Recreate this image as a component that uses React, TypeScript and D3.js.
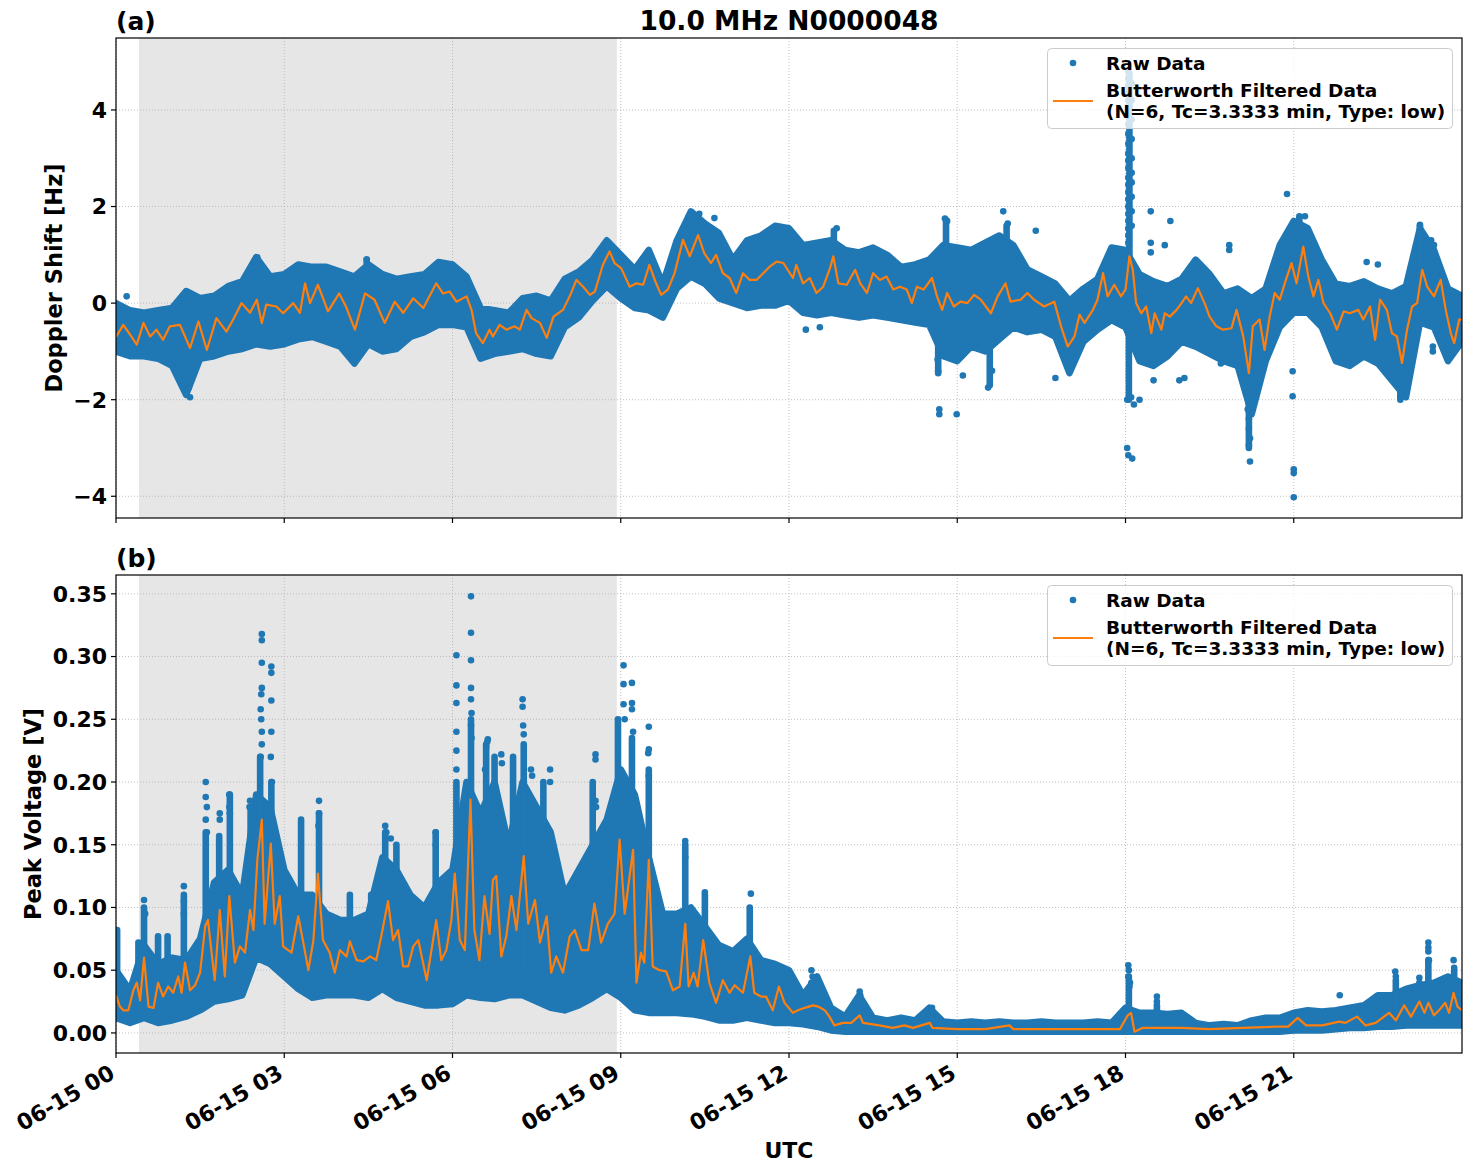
import * as d3 from 'd3';

// 15-minute grid used for the raw-data envelopes (hours since 06-15 00 UTC)
const envHours = d3.range(0, 24.001, 0.25);

// Doppler shift raw data: upper / lower edge of the dense scatter [Hz]
const dopplerHi = [
  0.0, -0.15, -0.2, -0.15, -0.1, 0.25, 0.1, 0.15, 0.35, 0.45, 0.95, 0.55, 0.6, 0.8, 0.75, 0.75,
  0.65, 0.55, 0.8, 0.6, 0.5, 0.55, 0.6, 0.85, 0.8, 0.55, -0.1, -0.15, -0.2, 0.1, 0.15, 0.05,
  0.5, 0.65, 0.9, 1.3, 1.0, 0.7, 1.1, 0.4, 1.3, 1.9, 1.65, 1.45, 0.9, 1.3, 1.4, 1.6,
  1.55, 1.2, 1.25, 1.3, 1.1, 1.05, 1.15, 1.0, 0.75, 0.8, 0.9, 1.2, 1.15, 1.1, 1.25, 1.4,
  1.2, 0.7, 0.55, 0.4, 0.05, 0.3, 0.5, 1.15, 1.1, 0.6, 0.45, 0.35, 0.5, 0.9, 0.6, 0.2,
  0.3, 0.1, 0.3, 1.2, 1.7, 1.55, 0.9, 0.4, 0.35, 0.45, 0.3, 0.2, 0.35, 1.55, 1.1, 0.3, 0.15,
];
const dopplerLo = [
  -1.0, -1.1, -1.1, -1.15, -1.3, -1.9, -1.15, -1.1, -1.0, -0.95, -0.85, -0.9, -0.85, -0.75, -0.7, -0.8,
  -0.9, -1.25, -0.85, -1.0, -0.95, -0.7, -0.6, -0.45, -0.45, -0.5, -1.15, -1.05, -1.0, -0.95, -1.05, -1.1,
  -0.5, -0.3, 0.05, 0.35, 0.1, -0.1, -0.15, -0.3, 0.3, 0.55, 0.4, 0.1, 0.0, -0.1, -0.05, -0.05,
  0.05, -0.2, -0.25, -0.2, -0.25, -0.3, -0.25, -0.3, -0.35, -0.4, -0.45, -1.1, -1.2, -0.9, -1.0, -0.75,
  -0.5, -0.6, -0.55, -0.7, -1.45, -0.8, -0.55, -0.35, -0.5, -1.2, -1.3, -1.1, -0.8, -0.9, -1.05, -1.2,
  -1.3, -2.3, -1.2, -0.5, -0.2, -0.2, -0.5, -1.2, -1.3, -1.1, -1.25, -1.6, -1.95, -0.4, -0.5, -1.2, -0.8,
];

// Doppler shift: short dense columns of raw points (hour, low end, high end)
const dopplerSpikeHours = [2.5, 4.47, 12.8, 14.66, 14.8, 15.58, 15.88, 18.07, 18.06, 20.2, 21.1, 22.9, 23.25];
const dopplerSpikeLow = [0.3, 0.3, 0.8, -1.45, 0.5, -1.7, 0.8, 0.5, -2.0, -3.0, 0.5, -2.0, 0.5];
const dopplerSpikeHigh = [0.93, 0.9, 1.5, 0.0, 1.72, -0.5, 1.6, 4.75, -0.5, -1.0, 1.8, -1.0, 1.62];

// Doppler shift raw points lying outside the dense band
const dopplerOutHours = [
  0.19, 1.32, 1.3, 2.52, 2.5, 4.47, 10.4, 10.67, 11.18, 12.3, 12.55, 12.85,
  14.65, 14.66, 14.68, 14.68, 14.99, 14.78, 14.82, 15.1, 15.55, 15.62, 15.82, 15.9, 16.4, 16.75,
  18.05, 18.05, 18.05, 18.05, 18.05, 18.05, 18.05, 18.05, 18.05, 18.05, 18.05, 18.05,
  18.05, 18.05, 18.05, 18.05, 18.05, 18.05, 18.05, 18.05, 18.05, 18.05, 18.05,
  18.11, 18.11, 18.11, 18.11, 18.11, 18.11, 18.11, 18.11, 18.11, 18.11,
  18.03, 18.1, 18.15, 18.03, 18.05, 18.12, 18.25,
  18.45, 18.45, 18.45, 18.5, 18.7, 18.8, 18.96, 19.05, 19.85, 19.85, 19.7,
  20.18, 20.2, 20.2, 20.22, 20.2, 20.22,
  20.88, 20.98, 20.98, 21.0, 21.0, 21.0, 21.2, 22.3, 22.5, 23.25, 23.45, 23.5, 23.48, 23.48,
];
const dopplerOutValues = [
  0.14, -1.95, -1.75, 0.95, 0.9, 0.9, 1.85, 1.76, 1.14, -0.55, -0.5, 1.55,
  -1.17, -1.41, -2.2, -2.3, -2.3, 1.75, 1.7, -1.5, -1.75, -1.4, 1.9, 1.65, 1.5, -1.55,
  4.8, 4.65, 4.5, 4.35, 4.2, 4.05, 3.9, 3.7, 3.5, 3.3, 3.1, 2.95,
  2.8, 2.6, 2.45, 2.3, 2.15, 2.0, 1.85, 1.7, 1.55, 1.4, 1.25,
  4.55, 4.2, 3.8, 3.4, 3.0, 2.7, 2.5, 2.2, 1.9, 1.6,
  -2.0, -1.95, -2.1, -3.0, -3.15, -3.22, -2.0,
  1.9, 1.25, 1.05, -1.6, 1.2, 1.7, -1.6, -1.55, 1.2, 1.1, -1.25,
  -2.2, -2.4, -2.6, -2.8, -2.95, -3.28,
  2.26, -1.41, -1.93, -3.44, -3.52, -4.02, 1.8, 0.85, 0.8, 1.6, 1.3, 1.2, -0.9, -1.0,
];

// Butterworth low-pass filtered Doppler shift
const dopplerFiltHours = [
  0.0, 0.13, 0.25, 0.37, 0.49, 0.61, 0.72, 0.84, 0.96, 1.14, 1.32, 1.47, 1.62, 1.79, 1.97, 2.09,
  2.24, 2.39, 2.51, 2.6, 2.68, 2.86, 2.98, 3.16, 3.28, 3.37, 3.46, 3.6, 3.78, 3.98, 4.1, 4.26,
  4.44, 4.61, 4.79, 4.97, 5.12, 5.3, 5.48, 5.71, 5.83, 5.95, 6.07, 6.25, 6.34, 6.42, 6.54, 6.66,
  6.72, 6.84, 6.96, 7.11, 7.2, 7.32, 7.41, 7.56, 7.68, 7.8, 7.97, 8.09, 8.21, 8.33, 8.45, 8.54,
  8.68, 8.8, 8.89, 9.01, 9.16, 9.28, 9.4, 9.51, 9.63, 9.72, 9.84, 9.96, 10.11, 10.23, 10.38, 10.49,
  10.61, 10.7, 10.82, 10.94, 11.06, 11.18, 11.3, 11.42, 11.54, 11.66, 11.78, 11.9, 12.07, 12.13, 12.25, 12.37,
  12.49, 12.61, 12.73, 12.79, 12.88, 13.03, 13.18, 13.27, 13.39, 13.5, 13.62, 13.74, 13.86, 13.98, 14.1, 14.19,
  14.28, 14.4, 14.55, 14.64, 14.73, 14.82, 14.94, 15.06, 15.18, 15.3, 15.42, 15.6, 15.72, 15.86, 15.95, 16.13,
  16.25, 16.37, 16.55, 16.73, 16.85, 16.97, 17.09, 17.18, 17.27, 17.42, 17.5, 17.6, 17.68, 17.8, 17.92, 18.0,
  18.07, 18.13, 18.19, 18.28, 18.37, 18.46, 18.52, 18.64, 18.7, 18.79, 18.91, 19.0, 19.08, 19.17, 19.29, 19.41,
  19.5, 19.62, 19.74, 19.89, 19.98, 20.1, 20.2, 20.27, 20.39, 20.48, 20.57, 20.66, 20.75, 20.84, 20.96, 21.05,
  21.17, 21.26, 21.35, 21.44, 21.53, 21.65, 21.77, 21.89, 22.0, 22.15, 22.24, 22.36, 22.45, 22.54, 22.66, 22.75,
  22.84, 22.93, 23.02, 23.11, 23.2, 23.29, 23.38, 23.5, 23.62, 23.71, 23.8, 23.86, 23.95, 24.0,
];
const dopplerFiltValues = [
  -0.7, -0.45, -0.65, -0.86, -0.41, -0.69, -0.55, -0.76, -0.48, -0.45, -0.93, -0.38, -0.97, -0.31, -0.59, -0.34,
  0.0, -0.2, 0.07, -0.41, -0.03, -0.07, -0.21, 0.0, -0.2, 0.41, 0.0, 0.38, -0.17, 0.2, -0.07, -0.55,
  0.2, 0.07, -0.41, 0.03, -0.2, 0.1, -0.1, 0.41, 0.2, 0.24, 0.03, 0.14, -0.14, -0.62, -0.83, -0.55,
  -0.69, -0.45, -0.55, -0.48, -0.55, -0.14, -0.31, -0.41, -0.72, -0.28, -0.14, 0.14, 0.48, 0.34, 0.17, 0.24,
  0.79, 1.07, 0.83, 0.72, 0.34, 0.41, 0.38, 0.79, 0.41, 0.17, 0.28, 0.62, 1.31, 0.97, 1.41, 1.03,
  0.83, 1.0, 0.62, 0.52, 0.21, 0.62, 0.48, 0.48, 0.62, 0.76, 0.86, 0.83, 0.52, 0.79, 0.41, 0.52,
  0.21, 0.34, 0.72, 0.97, 0.41, 0.38, 0.69, 0.41, 0.21, 0.62, 0.48, 0.55, 0.28, 0.34, 0.28, 0.0,
  0.34, 0.28, 0.52, 0.14, -0.14, 0.21, -0.07, 0.03, 0.0, 0.17, 0.07, -0.21, 0.14, 0.41, 0.03, 0.07,
  0.21, 0.07, -0.07, 0.03, -0.48, -0.9, -0.69, -0.24, -0.41, -0.14, 0.07, 0.62, 0.14, 0.38, 0.14, 0.28,
  0.97, 0.69, 0.0, -0.21, -0.07, -0.62, -0.21, -0.55, -0.21, -0.28, -0.14, 0.0, 0.14, 0.0, 0.31, 0.0,
  -0.28, -0.48, -0.55, -0.52, -0.14, -0.69, -1.45, -0.48, -0.34, -0.97, -0.28, 0.21, 0.07, 0.41, 0.83, 0.41,
  1.17, 0.55, 0.14, 0.48, 0.0, -0.21, -0.55, -0.17, -0.21, -0.14, -0.34, -0.07, -0.76, 0.07, -0.14, -0.62,
  -0.69, -1.24, -0.55, -0.07, 0.0, 0.69, 0.34, 0.14, 0.48, -0.14, -0.62, -0.83, -0.34, -0.34,
];

// Peak voltage raw data: upper / lower edge of the dense scatter [V]
const voltageHi = [
  0.05, 0.034, 0.07, 0.055, 0.06, 0.058, 0.075, 0.12, 0.13, 0.11, 0.19, 0.18, 0.13, 0.11, 0.11, 0.095,
  0.09, 0.09, 0.095, 0.14, 0.13, 0.11, 0.10, 0.12, 0.13, 0.2, 0.175, 0.2, 0.15, 0.2, 0.18, 0.16,
  0.11, 0.13, 0.15, 0.17, 0.21, 0.19, 0.14, 0.095, 0.095, 0.1, 0.085, 0.07, 0.065, 0.075, 0.058, 0.055,
  0.05, 0.03, 0.045, 0.02, 0.013, 0.03, 0.012, 0.01, 0.012, 0.01, 0.02, 0.009, 0.008, 0.009, 0.008, 0.009,
  0.008, 0.008, 0.009, 0.008, 0.008, 0.008, 0.009, 0.008, 0.02, 0.016, 0.016, 0.015, 0.016, 0.008, 0.006, 0.007,
  0.006, 0.01, 0.012, 0.012, 0.016, 0.018, 0.017, 0.018, 0.02, 0.022, 0.03, 0.03, 0.035, 0.038, 0.04, 0.045, 0.04,
];
const voltageLo = [
  0.012, 0.008, 0.012, 0.008, 0.01, 0.013, 0.018, 0.025, 0.027, 0.03, 0.06, 0.055, 0.045, 0.035, 0.028, 0.03,
  0.03, 0.03, 0.028, 0.035, 0.028, 0.025, 0.022, 0.022, 0.023, 0.03, 0.028, 0.027, 0.03, 0.03, 0.025, 0.02,
  0.018, 0.022, 0.028, 0.035, 0.028, 0.018, 0.016, 0.016, 0.016, 0.015, 0.013, 0.01, 0.01, 0.012, 0.01, 0.008,
  0.008, 0.007, 0.005, 0.002, 0.001, 0.001, 0.001, 0.001, 0.001, 0.001, 0.001, 0.001, 0.001, 0.001, 0.001, 0.001,
  0.001, 0.001, 0.001, 0.001, 0.001, 0.001, 0.001, 0.001, 0.001, 0.001, 0.001, 0.001, 0.001, 0.001, 0.001, 0.001,
  0.001, 0.001, 0.001, 0.001, 0.002, 0.002, 0.002, 0.003, 0.004, 0.004, 0.005, 0.005, 0.006, 0.006, 0.006, 0.006, 0.006,
];

// Peak voltage: short dense columns of raw points (hour, low end, high end)
const voltageSpikeHours = [
  0.02, 0.4, 0.5, 0.75, 0.92, 1.21, 1.6, 1.84, 2.03, 2.4, 2.57, 2.77, 3.3, 3.62, 4.17, 4.55,
  4.8, 5.0, 5.7, 6.07, 6.33, 6.6, 6.75, 7.08, 7.27, 7.62, 8.5, 8.95, 9.2, 9.5, 10.15, 10.5,
  11.3, 12.4, 13.26, 14.55, 18.06, 18.56, 22.82, 23.24, 23.4, 23.86,
];
const voltageSpikeLow = [
  0.03, 0.03, 0.03, 0.03, 0.03, 0.03, 0.05, 0.05, 0.05, 0.05, 0.1, 0.1, 0.05, 0.05, 0.04, 0.04,
  0.05, 0.05, 0.05, 0.05, 0.05, 0.05, 0.05, 0.05, 0.05, 0.05, 0.05, 0.05, 0.05, 0.05, 0.03, 0.03,
  0.03, 0.01, 0.005, 0.003, 0.005, 0.003, 0.01, 0.01, 0.01, 0.01,
];
const voltageSpikeHigh = [
  0.082, 0.072, 0.1, 0.077, 0.077, 0.11, 0.16, 0.157, 0.19, 0.18, 0.22, 0.2, 0.17, 0.175, 0.11, 0.11,
  0.16, 0.15, 0.16, 0.2, 0.25, 0.23, 0.22, 0.22, 0.23, 0.2, 0.2, 0.25, 0.235, 0.21, 0.15, 0.11,
  0.1, 0.04, 0.028, 0.018, 0.045, 0.022, 0.042, 0.038, 0.058, 0.05,
];

// Peak voltage raw points above the dense band
const voltageOutHours = [
  0.5, 0.52, 1.21, 1.21, 1.21, 1.6, 1.6, 1.62, 1.6, 1.62, 1.85, 1.85, 2.02, 2.02, 2.03, 2.38, 2.39,
  2.6, 2.6, 2.6, 2.59, 2.6, 2.58, 2.59, 2.6, 2.6, 2.58,
  2.77, 2.77, 2.77, 2.77, 2.76, 2.78, 3.62, 3.62, 3.61, 4.8, 4.82, 4.9, 5.7, 5.7,
  6.07, 6.07, 6.07, 6.07, 6.07, 6.07,
  6.33, 6.33, 6.33, 6.33, 6.33, 6.34, 6.33, 6.34,
  6.58, 6.6, 6.62, 6.63, 6.87, 6.88, 7.25, 7.25, 7.27, 7.26, 7.4, 7.42, 7.74, 7.74,
  8.55, 8.55, 8.55, 8.56, 9.05, 9.05, 9.05, 9.07, 9.2, 9.2, 9.2, 9.22, 9.5, 9.5, 9.49, 9.5,
  10.15, 10.15, 10.5, 11.32, 12.4, 12.42, 13.26, 13.27, 14.55,
  18.05, 18.06, 18.05, 18.08, 18.07, 18.56, 18.56, 21.82, 22.81, 22.82, 23.24, 23.24,
  23.4, 23.4, 23.4, 23.41, 23.85, 23.86,
];
const voltageOutValues = [
  0.106, 0.095, 0.117, 0.105, 0.095, 0.2, 0.188, 0.18, 0.17, 0.16, 0.175, 0.17, 0.19, 0.18, 0.175, 0.18, 0.185,
  0.318, 0.313, 0.295, 0.27, 0.275, 0.258, 0.25, 0.24, 0.23, 0.22,
  0.292, 0.287, 0.265, 0.24, 0.22, 0.2, 0.185, 0.175, 0.165, 0.165, 0.16, 0.155, 0.16, 0.15,
  0.301, 0.277, 0.263, 0.24, 0.225, 0.21,
  0.348, 0.319, 0.297, 0.275, 0.266, 0.255, 0.245, 0.235,
  0.21, 0.228, 0.232, 0.234, 0.222, 0.215, 0.266, 0.26, 0.238, 0.245, 0.21, 0.205, 0.21, 0.2,
  0.222, 0.218, 0.185, 0.18, 0.293, 0.278, 0.262, 0.25, 0.279, 0.263, 0.258, 0.24, 0.244, 0.226, 0.223, 0.205,
  0.153, 0.14, 0.112, 0.111, 0.05, 0.045, 0.033, 0.03, 0.02,
  0.054, 0.05, 0.045, 0.04, 0.037, 0.029, 0.025, 0.03, 0.049, 0.045, 0.044, 0.04,
  0.072, 0.068, 0.065, 0.058, 0.058, 0.052,
];

// Butterworth low-pass filtered peak voltage
const voltageFiltHours = [
  0.0, 0.07, 0.13, 0.22, 0.31, 0.37, 0.43, 0.5, 0.58, 0.67, 0.75, 0.84, 0.93, 1.02, 1.11, 1.17,
  1.23, 1.32, 1.41, 1.5, 1.59, 1.64, 1.76, 1.85, 1.94, 2.02, 2.12, 2.21, 2.3, 2.39, 2.45, 2.52,
  2.6, 2.65, 2.76, 2.83, 2.92, 2.98, 3.13, 3.25, 3.34, 3.43, 3.52, 3.6, 3.69, 3.81, 3.9, 3.99,
  4.11, 4.17, 4.29, 4.41, 4.53, 4.64, 4.73, 4.85, 4.94, 5.03, 5.12, 5.21, 5.3, 5.39, 5.54, 5.71,
  5.8, 5.89, 5.98, 6.04, 6.13, 6.22, 6.32, 6.39, 6.48, 6.57, 6.66, 6.72, 6.78, 6.87, 6.96, 7.05,
  7.14, 7.27, 7.35, 7.47, 7.56, 7.68, 7.76, 7.85, 7.97, 8.09, 8.18, 8.3, 8.42, 8.53, 8.65, 8.77,
  8.89, 8.98, 9.07, 9.22, 9.28, 9.36, 9.42, 9.5, 9.57, 9.69, 9.81, 9.93, 10.05, 10.15, 10.21, 10.3,
  10.37, 10.47, 10.58, 10.7, 10.82, 10.94, 11.03, 11.18, 11.31, 11.38, 11.5, 11.59, 11.71, 11.82, 11.92, 12.07,
  12.16, 12.28, 12.43, 12.52, 12.64, 12.72, 12.81, 12.96, 13.11, 13.26, 13.32, 13.61, 13.85, 14.06, 14.21, 14.51,
  14.56, 15.0, 15.5, 15.93, 16.0, 16.5, 17.0, 17.5, 17.9, 18.04, 18.1, 18.16, 18.3, 19.0, 19.5, 20.09,
  20.68, 20.9, 21.07, 21.22, 21.51, 21.81, 21.92, 22.13, 22.28, 22.46, 22.7, 22.82, 22.97, 23.09, 23.24, 23.33,
  23.4, 23.5, 23.59, 23.7, 23.77, 23.85, 23.92, 24.0,
];
const voltageFiltValues = [
  0.03, 0.021, 0.018, 0.018, 0.034, 0.04, 0.026, 0.06, 0.021, 0.02, 0.04, 0.029, 0.037, 0.032, 0.045, 0.032,
  0.056, 0.034, 0.038, 0.048, 0.085, 0.09, 0.042, 0.098, 0.045, 0.109, 0.056, 0.069, 0.064, 0.098, 0.082, 0.138,
  0.17, 0.087, 0.151, 0.087, 0.109, 0.069, 0.064, 0.093, 0.072, 0.05, 0.074, 0.127, 0.074, 0.064, 0.048, 0.066,
  0.061, 0.073, 0.058, 0.057, 0.061, 0.058, 0.077, 0.105, 0.074, 0.082, 0.053, 0.053, 0.069, 0.074, 0.042, 0.09,
  0.058, 0.066, 0.09, 0.127, 0.074, 0.066, 0.186, 0.082, 0.058, 0.109, 0.079, 0.122, 0.125, 0.061, 0.077, 0.109,
  0.082, 0.141, 0.087, 0.106, 0.072, 0.093, 0.048, 0.061, 0.048, 0.077, 0.082, 0.066, 0.066, 0.103, 0.072, 0.087,
  0.095, 0.154, 0.095, 0.146, 0.04, 0.064, 0.056, 0.138, 0.053, 0.05, 0.049, 0.034, 0.037, 0.087, 0.037, 0.048,
  0.037, 0.074, 0.04, 0.024, 0.042, 0.032, 0.038, 0.032, 0.061, 0.032, 0.029, 0.029, 0.018, 0.037, 0.024, 0.016,
  0.018, 0.02, 0.022, 0.021, 0.018, 0.013, 0.006, 0.008, 0.008, 0.014, 0.008, 0.006, 0.004, 0.006, 0.004, 0.008,
  0.004, 0.003, 0.003, 0.006, 0.003, 0.003, 0.003, 0.003, 0.003, 0.014, 0.016, 0.001, 0.004, 0.004, 0.003, 0.004,
  0.005, 0.005, 0.012, 0.006, 0.006, 0.009, 0.008, 0.013, 0.006, 0.008, 0.016, 0.01, 0.022, 0.013, 0.025, 0.016,
  0.024, 0.014, 0.018, 0.024, 0.016, 0.032, 0.021, 0.018,
];

// shaded interval (hours) and axis ticks
const shadeSpan = [0.41, 8.93];
const hourTicks = [0, 3, 6, 9, 12, 15, 18, 21];
const hourTickLabels = ['06-15 00', '06-15 03', '06-15 06', '06-15 09', '06-15 12', '06-15 15', '06-15 18', '06-15 21'];
const dopplerTicks = [-4, -2, 0, 2, 4];
const voltageTicks = [0, 0.05, 0.1, 0.15, 0.2, 0.25, 0.3, 0.35];

const BLUE = '#1f77b4';
const ORANGE = '#ff7f0e';
const FONT = 'DejaVu Sans, Verdana, sans-serif';
const DOT_R = 3.3;

const LEFT = 116;
const RIGHT = 1462;
const xScale = d3.scaleLinear().domain([0, 24]).range([LEFT, RIGHT]);

const zipPts = (xs: number[], ys: number[]) => xs.map((h, i) => [h, ys[i]] as [number, number]);

const Legend = ({ top }: { top: number }) => (
  <g transform={`translate(1047, ${top})`} fontFamily={FONT} fontWeight="bold" fontSize={18.5}>
    <rect x={0.5} y={0.5} width={405} height={80} rx={4} fill="white" fillOpacity={0.8} stroke="#cccccc" />
    <circle cx={26} cy={15} r={DOT_R} fill={BLUE} />
    <text x={59} y={15} dy="0.36em">Raw Data</text>
    <line x1={6} x2={46} y1={53} y2={53} stroke={ORANGE} strokeWidth={2} />
    <text x={59} y={42} dy="0.36em">Butterworth Filtered Data</text>
    <text x={59} y={63} dy="0.36em">(N=6, Tc=3.3333 min, Type: low)</text>
  </g>
);

type PanelProps = {
  id: string;
  top: number;
  bottom: number;
  domain: [number, number];
  ticks: number[];
  tickFmt: (v: number) => string;
  yLabel: string;
  yLabelX: number;
  hi: number[];
  lo: number[];
  spikeH: number[];
  spikeLo: number[];
  spikeHi: number[];
  outH: number[];
  outV: number[];
  filtH: number[];
  filtV: number[];
  showXLabels: boolean;
};

const Panel = (p: PanelProps) => {
  const y = d3.scaleLinear().domain(p.domain).range([p.bottom, p.top]);
  const band = d3
    .area<number>()
    .x((_, i) => xScale(envHours[i]))
    .y0((_, i) => y(p.lo[i]))
    .y1((d) => y(d))(p.hi);
  const filt = d3
    .line<[number, number]>()
    .x((d) => xScale(d[0]))
    .y((d) => y(d[1]))(zipPts(p.filtH, p.filtV));
  const outliers = zipPts(p.outH, p.outV);
  const clipId = `clip-${p.id}`;

  return (
    <g>
      <defs>
        <clipPath id={clipId}>
          <rect x={LEFT} y={p.top} width={RIGHT - LEFT} height={p.bottom - p.top} />
        </clipPath>
      </defs>
      <rect
        x={xScale(shadeSpan[0])}
        y={p.top}
        width={xScale(shadeSpan[1]) - xScale(shadeSpan[0])}
        height={p.bottom - p.top}
        fill="#e6e6e6"
      />
      {/* grid */}
      <g stroke="#b0b0b0" strokeWidth={0.8} strokeDasharray="1,2">
        {hourTicks.map((h) => (
          <line key={`gx${h}`} x1={xScale(h)} x2={xScale(h)} y1={p.top} y2={p.bottom} />
        ))}
        {p.ticks.map((t) => (
          <line key={`gy${t}`} x1={LEFT} x2={RIGHT} y1={y(t)} y2={y(t)} />
        ))}
      </g>
      <g clipPath={`url(#${clipId})`}>
        <path d={band ?? ''} fill={BLUE} stroke={BLUE} strokeWidth={DOT_R * 2} strokeLinejoin="round" />
        {p.spikeH.map((h, i) => (
          <line
            key={`s${i}`}
            x1={xScale(h)}
            x2={xScale(h)}
            y1={y(p.spikeLo[i])}
            y2={y(p.spikeHi[i])}
            stroke={BLUE}
            strokeWidth={DOT_R * 2}
            strokeLinecap="round"
          />
        ))}
        {outliers.map((d, i) => (
          <circle key={i} cx={xScale(d[0])} cy={y(d[1])} r={DOT_R} fill={BLUE} />
        ))}
        <path d={filt ?? ''} fill="none" stroke={ORANGE} strokeWidth={2.2} strokeLinejoin="round" />
      </g>
      <rect x={LEFT} y={p.top} width={RIGHT - LEFT} height={p.bottom - p.top} fill="none" stroke="black" strokeWidth={1.2} />
      {/* axes */}
      <g fontFamily={FONT} fontWeight="bold" fontSize={22}>
        {p.ticks.map((t) => (
          <g key={`ty${t}`}>
            <line x1={LEFT - 5} x2={LEFT} y1={y(t)} y2={y(t)} stroke="black" strokeWidth={1.2} />
            <text x={LEFT - 9} y={y(t)} dy="0.36em" textAnchor="end">
              {p.tickFmt(t)}
            </text>
          </g>
        ))}
        {hourTicks.map((h, i) => (
          <g key={`tx${h}`}>
            <line x1={xScale(h)} x2={xScale(h)} y1={p.bottom} y2={p.bottom + 5} stroke="black" strokeWidth={1.2} />
            {p.showXLabels && (
              <text
                transform={`translate(${xScale(h) - 8}, ${p.bottom + 10}) rotate(-30)`}
                textAnchor="end"
                dy="0.75em"
              >
                {hourTickLabels[i]}
              </text>
            )}
          </g>
        ))}
      </g>
      <text
        transform={`translate(${p.yLabelX}, ${(p.top + p.bottom) / 2}) rotate(-90)`}
        textAnchor="middle"
        fontFamily={FONT}
        fontWeight="bold"
        fontSize={22.5}
      >
        {p.yLabel}
      </text>
      <Legend top={p.top + 10} />
    </g>
  );
};

const App = () => (
  <svg width={1471} height={1172} style={{ position: 'absolute', left: 0, top: 0, display: 'block' }}>
    <rect width={1471} height={1172} fill="white" />
    <text x={789} y={30} textAnchor="middle" fontFamily={FONT} fontWeight="bold" fontSize={26.5}>
      10.0 MHz N0000048
    </text>
    <text x={116} y={30} fontFamily={FONT} fontWeight="bold" fontSize={25}>(a)</text>
    <text x={116} y={567} fontFamily={FONT} fontWeight="bold" fontSize={25}>(b)</text>
    <Panel
      id="doppler"
      top={38}
      bottom={518}
      domain={[-4.45, 5.49]}
      ticks={dopplerTicks}
      tickFmt={(v) => (v < 0 ? `\u2212${Math.abs(v)}` : `${v}`)}
      yLabel="Doppler Shift [Hz]"
      yLabelX={62}
      hi={dopplerHi}
      lo={dopplerLo}
      spikeH={dopplerSpikeHours}
      spikeLo={dopplerSpikeLow}
      spikeHi={dopplerSpikeHigh}
      outH={dopplerOutHours}
      outV={dopplerOutValues}
      filtH={dopplerFiltHours}
      filtV={dopplerFiltValues}
      showXLabels={false}
    />
    <Panel
      id="voltage"
      top={575}
      bottom={1053}
      domain={[-0.016, 0.365]}
      ticks={voltageTicks}
      tickFmt={(v) => v.toFixed(2)}
      yLabel="Peak Voltage [V]"
      yLabelX={41}
      hi={voltageHi}
      lo={voltageLo}
      spikeH={voltageSpikeHours}
      spikeLo={voltageSpikeLow}
      spikeHi={voltageSpikeHigh}
      outH={voltageOutHours}
      outV={voltageOutValues}
      filtH={voltageFiltHours}
      filtV={voltageFiltValues}
      showXLabels={true}
    />
    <text x={789} y={1158} textAnchor="middle" fontFamily={FONT} fontWeight="bold" fontSize={22}>
      UTC
    </text>
  </svg>
);

export default App;
